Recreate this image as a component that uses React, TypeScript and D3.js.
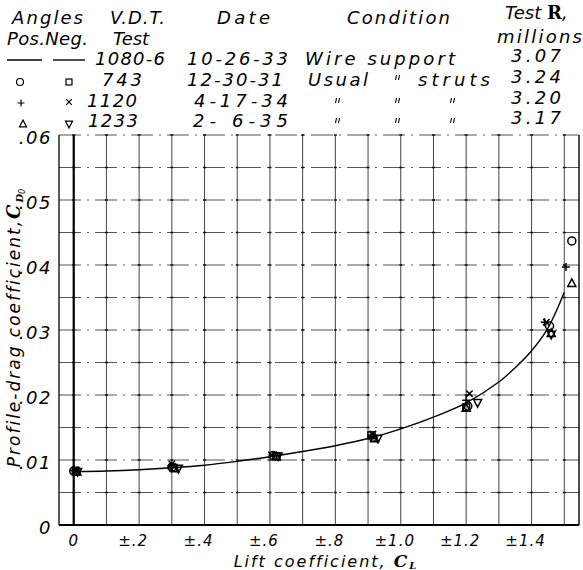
import React from 'react';
import * as d3 from 'd3';

// Faired curve (Wire support test 1080-6)
const curveCL = [0, 0.1, 0.2, 0.3, 0.4, 0.5, 0.6, 0.7, 0.8, 0.9, 1.0, 1.1, 1.2, 1.3, 1.35, 1.4, 1.45, 1.5];
const curveCD = [0.0082, 0.0083, 0.0085, 0.0088, 0.0092, 0.0098, 0.0105, 0.0113, 0.0122, 0.0133, 0.0148, 0.0166, 0.0188, 0.0220, 0.0242, 0.0268, 0.0303, 0.0358];

// Test 743 (circle = positive angles, square = negative)
const circleCL = [0.0, 0.30, 0.61, 0.915, 1.205, 1.455, 1.523];
const circleCD = [0.0083, 0.0089, 0.0107, 0.0135, 0.0183, 0.0306, 0.0437];
const squareCL = [0.006, 0.305, 0.62, 0.91, 1.20];
const squareCD = [0.0083, 0.0088, 0.0106, 0.0138, 0.0181];
// Test 1120 (plus = positive, x = negative)
const plusCL = [0.0, 0.30, 0.61, 0.91, 1.20, 1.44, 1.505];
const plusCD = [0.0084, 0.0091, 0.0106, 0.0137, 0.0192, 0.0312, 0.0397];
const crossCL = [0.006, 0.30, 0.605, 0.915, 1.21, 1.445];
const crossCD = [0.0085, 0.0094, 0.0108, 0.0140, 0.0202, 0.0312];
// Test 1233 (triangle = positive, inverted triangle = negative)
const triCL = [0.01, 0.31, 0.62, 0.92, 1.20, 1.46, 1.523];
const triCD = [0.0082, 0.0087, 0.0105, 0.0133, 0.0180, 0.0295, 0.0372];
const invTriCL = [0.012, 0.32, 0.625, 0.93, 1.235, 1.46];
const invTriCD = [0.0082, 0.0087, 0.0106, 0.0133, 0.0188, 0.0293];

const xTicks = [0, 0.2, 0.4, 0.6, 0.8, 1.0, 1.2, 1.4];
const xTickLabels = ['0', '±.2', '±.4', '±.6', '±.8', '±1.0', '±1.2', '±1.4'];
const yTicks = [0, 0.01, 0.02, 0.03, 0.04, 0.05, 0.06];
const yTickLabels = ['0', '.01', '.02', '.03', '.04', '.05', '.06'];

const tests = ['1080-6', '743', '1120', '1233'];
const dates = ['10-26-33', '12-30-31', '4-17-34', '2- 6-35'];
const reynolds = ['3.07', '3.24', '3.20', '3.17'];

const FONT = "'DejaVu Sans', sans-serif";

type Shape = 'circle' | 'square' | 'plus' | 'cross' | 'tri' | 'invtri';

function Marker({ shape, cx, cy, s = 4, sw = 1.5 }: { shape: Shape; cx: number; cy: number; s?: number; sw?: number }) {
  const common = { fill: 'none', stroke: '#000', strokeWidth: sw };
  switch (shape) {
    case 'circle':
      return <circle cx={cx} cy={cy} r={s} {...common} />;
    case 'square':
      return <rect x={cx - s * 0.85} y={cy - s * 0.85} width={s * 1.7} height={s * 1.7} {...common} />;
    case 'plus':
      return <path d={`M${cx - s},${cy}H${cx + s}M${cx},${cy - s}V${cy + s}`} {...common} />;
    case 'cross': {
      const k = s * 0.8;
      return <path d={`M${cx - k},${cy - k}L${cx + k},${cy + k}M${cx - k},${cy + k}L${cx + k},${cy - k}`} {...common} />;
    }
    case 'tri':
      return <path d={`M${cx},${cy - s * 1.1}L${cx + s},${cy + s * 0.8}L${cx - s},${cy + s * 0.8}Z`} {...common} />;
    case 'invtri':
      return <path d={`M${cx},${cy + s * 1.1}L${cx + s},${cy - s * 0.8}L${cx - s},${cy - s * 0.8}Z`} {...common} />;
  }
  return null;
}

function Ditto({ cx, cy }: { cx: number; cy: number }) {
  return (
    <path
      d={`M${cx - 1.5},${cy - 3}L${cx - 2.5},${cy + 2}M${cx + 1.5},${cy - 3}L${cx + 0.5},${cy + 2}`}
      stroke="#000"
      strokeWidth={1.1}
      fill="none"
    />
  );
}

export default function App() {
  const W = 583;
  const H = 570;
  const x = d3.scaleLinear().domain([-0.045, 1.545]).range([59, 579]);
  const y = d3.scaleLinear().domain([0, 0.06]).range([525, 135]);

  const vGrid = d3.range(0, 1.51, 0.1);
  const hGrid = d3.range(0.005, 0.0601, 0.005);

  const line = d3
    .line<number>()
    .x((d, i) => x(curveCL[i]))
    .y((d) => y(d))
    .curve(d3.curveCatmullRom.alpha(0.5));

  const series: { shape: Shape; cl: number[]; cd: number[] }[] = [
    { shape: 'circle', cl: circleCL, cd: circleCD },
    { shape: 'square', cl: squareCL, cd: squareCD },
    { shape: 'plus', cl: plusCL, cd: plusCD },
    { shape: 'cross', cl: crossCL, cd: crossCD },
    { shape: 'tri', cl: triCL, cd: triCD },
    { shape: 'invtri', cl: invTriCL, cd: invTriCD },
  ];

  const txt = { fontFamily: FONT, fontStyle: 'italic', fill: '#000' } as const;
  const LF = 18;

  // legend layout
  const rowY = [65, 86, 107, 127];
  const testX = [95, 102, 87, 88];
  const testLen = [70, 40, 50, 50];
  const dateX = [187, 187, 194, 193];
  const dateLen = [101, 96, 94, 95];

  return (
    <div style={{ position: 'absolute', left: 0, top: 0 }}>
      <svg width={W} height={H} viewBox={`0 0 ${W} ${H}`} style={{ display: 'block', background: '#fff' }}>
        <rect width={W} height={H} fill="#fff" />
        {/* Grid */}
        {hGrid.map((v) => (
          <line
            key={'h' + v}
            x1={x(-0.045)}
            x2={x(1.545)}
            y1={y(v)}
            y2={y(v)}
            stroke="#555"
            strokeWidth={1}
            strokeDasharray="22 6 2 6"
          />
        ))}
        {vGrid.map((v) => (
          <line
            key={'v' + v}
            x1={x(v)}
            x2={x(v)}
            y1={y(0)}
            y2={y(0.06)}
            stroke={v === 0 ? '#000' : '#444'}
            strokeWidth={v === 0 ? 2.2 : 1}
          />
        ))}
        {/* intersection ticks */}
        {vGrid.map((v) =>
          hGrid.map((h) => (
            <rect key={`t${v}-${h}`} x={x(v) - 1.5} y={y(h) - 0.75} width={3} height={1.5} fill="#111" />
          ))
        )}
        {/* Frame */}
        <line x1={x(-0.045)} x2={x(-0.045)} y1={y(0)} y2={y(0.06)} stroke="#000" strokeWidth={1.3} />
        <line x1={x(1.545)} x2={x(1.545)} y1={y(0)} y2={y(0.06)} stroke="#000" strokeWidth={1.4} />
        <line x1={x(-0.045)} x2={x(1.545)} y1={y(0)} y2={y(0)} stroke="#000" strokeWidth={2} />

        {/* Curve */}
        <path d={line(curveCD) || ''} fill="none" stroke="#000" strokeWidth={1.4} />

        {/* Data markers */}
        {series.map((s) =>
          s.cl.map((c, i) => <Marker key={s.shape + i} shape={s.shape} cx={x(c)} cy={y(s.cd[i])} />)
        )}

        {/* Y tick labels */}
        {yTicks.map((v, i) => (
          <text key={'yl' + v} x={52} y={y(v) + 9} textAnchor="end" fontSize={18} {...txt} letterSpacing={1.5}>
            {yTickLabels[i]}
          </text>
        ))}
        {/* X tick labels */}
        {xTicks.map((v, i) => (
          <text key={'xl' + v} x={x(v) - (i === 0 ? 0 : 6)} y={546} textAnchor="middle" fontSize={15} {...txt} letterSpacing={1}>
            {xTickLabels[i]}
          </text>
        ))}

        {/* Axis titles */}
        <text x={326} y={567} textAnchor="middle" fontSize={16} {...txt} letterSpacing={2}>
          Lift coefficient,{' '}
          <tspan fontFamily="'DejaVu Serif', serif" fontWeight="bold" fontSize={17}>C</tspan>
          <tspan fontFamily="'DejaVu Serif', serif" fontWeight="bold" fontSize={10} dy={2}>L</tspan>
        </text>
        <text
          transform="translate(20,328) rotate(-90)"
          textAnchor="middle"
          fontSize={17}
          {...txt}
          letterSpacing={2}
        >
          Profile-drag coefficient,
          <tspan fontFamily="'DejaVu Serif', serif" fontWeight="bold" fontSize={18}>C</tspan>
          <tspan fontFamily="'DejaVu Serif', serif" fontWeight="bold" fontSize={10} dy={3} letterSpacing={0}>D</tspan>
          <tspan fontSize={8} dy={2} letterSpacing={0}>0</tspan>
        </text>

        {/* Legend header */}
        <text x={12} y={24} fontSize={LF} {...txt} textLength={71} lengthAdjust="spacing">Angles</text>
        <text x={7} y={45} fontSize={LF} {...txt} textLength={81} lengthAdjust="spacing">Pos.Neg.</text>
        <text x={110} y={24} fontSize={LF} {...txt} textLength={55} lengthAdjust="spacing">V.D.T.</text>
        <text x={113} y={45} fontSize={LF} {...txt} textLength={36} lengthAdjust="spacing">Test</text>
        <text x={217} y={24} fontSize={LF} {...txt} textLength={53} lengthAdjust="spacing">Date</text>
        <text x={347} y={24} fontSize={LF} {...txt} textLength={103} lengthAdjust="spacing">Condition</text>
        <text x={505} y={19} fontSize={LF} {...txt}>
          <tspan>Test </tspan>
          <tspan fontFamily="'DejaVu Serif', serif" fontStyle="normal" fontWeight="bold" fontSize={18}>R</tspan>
          <tspan>,</tspan>
        </text>
        <text x={497} y={43} fontSize={LF} {...txt} textLength={85} lengthAdjust="spacing">millions</text>

        {/* Legend symbols */}
        <line x1={7} x2={42} y1={60} y2={60} stroke="#000" strokeWidth={1.4} />
        <line x1={53} x2={85} y1={60} y2={60} stroke="#000" strokeWidth={1.4} />
        <Marker shape="circle" cx={20} cy={82} s={3.5} sw={1.2} />
        <Marker shape="square" cx={69} cy={82} s={3.5} sw={1.2} />
        <Marker shape="plus" cx={21} cy={103} s={3.5} sw={1.2} />
        <Marker shape="cross" cx={69} cy={102} s={3.5} sw={1.2} />
        <Marker shape="tri" cx={23} cy={124} s={3.5} sw={1.2} />
        <Marker shape="invtri" cx={69} cy={124} s={3.5} sw={1.2} />

        {/* Legend rows */}
        {tests.map((t, i) => (
          <text key={'t' + t} x={testX[i]} y={rowY[i]} fontSize={LF} {...txt} textLength={testLen[i]} lengthAdjust="spacing">
            {t}
          </text>
        ))}
        {dates.map((d, i) => (
          <text key={'d' + d} x={dateX[i]} y={rowY[i]} fontSize={LF} {...txt} textLength={dateLen[i]} lengthAdjust="spacing">
            {d}
          </text>
        ))}
        <text x={305} y={rowY[0]} fontSize={LF} {...txt} textLength={150} lengthAdjust="spacing">Wire support</text>
        <text x={308} y={rowY[1]} fontSize={LF} {...txt} textLength={60} lengthAdjust="spacing">Usual</text>
        <Ditto cx={398} cy={rowY[1] - 8} />
        <text x={418} y={rowY[1]} fontSize={LF} {...txt} textLength={72} lengthAdjust="spacing">struts</text>
        {[2, 3].map((r) =>
          [338, 398, 453].map((xx) => <Ditto key={`q${r}-${xx}`} cx={xx} cy={rowY[r] - 6} />)
        )}
        {reynolds.map((rv, i) => (
          <text key={'r' + i} x={511} y={rowY[i] - 3} fontSize={LF} {...txt} textLength={50} lengthAdjust="spacing">
            {rv}
          </text>
        ))}
      </svg>
    </div>
  );
}
